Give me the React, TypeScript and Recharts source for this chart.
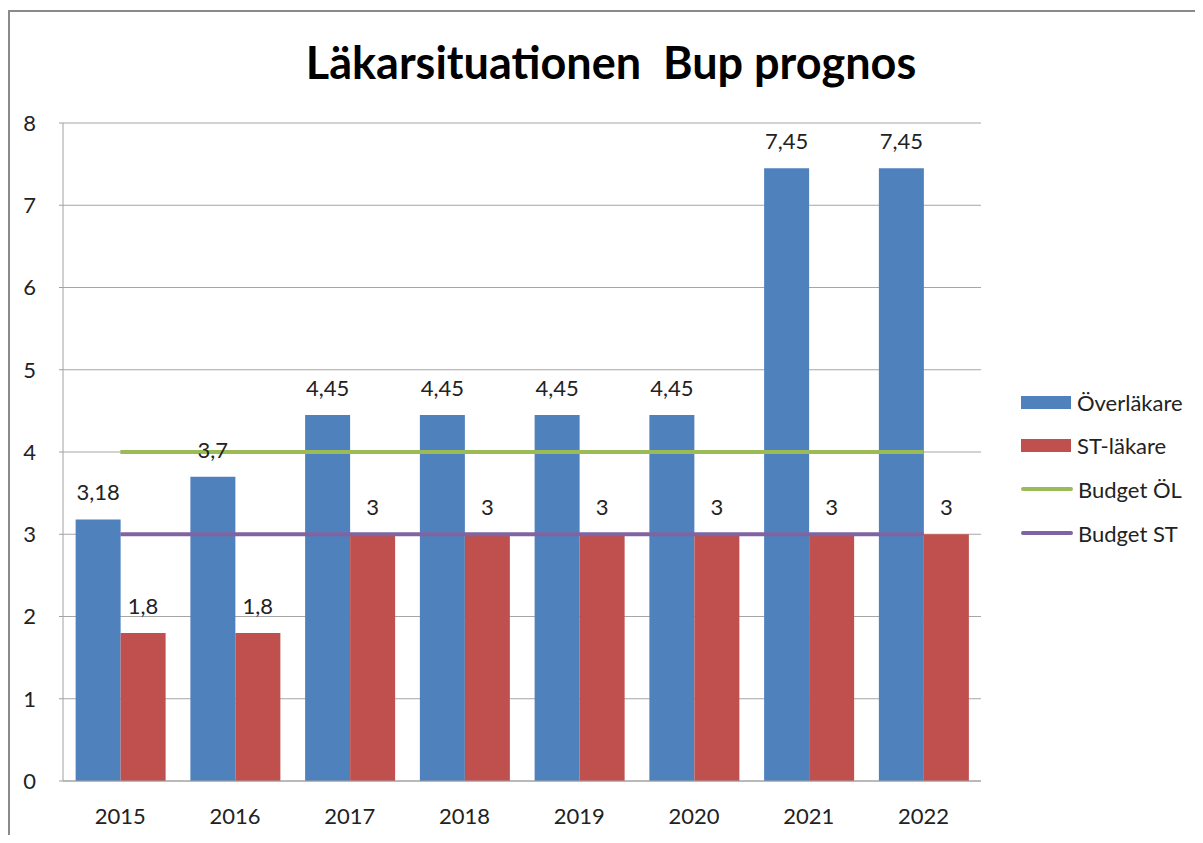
import React from 'react';
import {
  ComposedChart, Bar, Line, XAxis, YAxis, CartesianGrid, LabelList
} from 'recharts';

const years = ['2015', '2016', '2017', '2018', '2019', '2020', '2021', '2022'];
const overlakare = [3.18, 3.7, 4.45, 4.45, 4.45, 4.45, 7.45, 7.45];
const stLakare = [1.8, 1.8, 3, 3, 3, 3, 3, 3];
const budgetOL = [4, 4, 4, 4, 4, 4, 4, 4];
const budgetST = [3, 3, 3, 3, 3, 3, 3, 3];
const yTicks = [0, 1, 2, 3, 4, 5, 6, 7, 8];

const legendItems = [
  { name: 'Överläkare', color: '#4F81BD', kind: 'box' },
  { name: 'ST-läkare', color: '#C0504D', kind: 'box' },
  { name: 'Budget ÖL', color: '#9BBB59', kind: 'line' },
  { name: 'Budget ST', color: '#8064A2', kind: 'line' },
];

const data = years.map((y, i) => ({
  year: y,
  ol: overlakare[i],
  st: stLakare[i],
  bol: budgetOL[i],
  bst: budgetST[i],
}));

const FONT = 'Lato, "Open Sans", sans-serif';
const fmt = (v: any) => String(v).replace('.', ',');

export default function App() {
  return (
    <div style={{ position: 'relative', width: 1187, height: 827, overflow: 'hidden', fontFamily: FONT }}>
      <div style={{
        position: 'absolute', left: 0, top: 2, width: 1187, height: 825,
        borderTop: '2px solid #8a8a8a', borderLeft: '2px solid #8a8a8a', boxSizing: 'border-box'
      }} />
      <div style={{
        position: 'absolute', left: 0, width: 1206, top: 27, textAlign: 'center',
        fontSize: 45, fontWeight: 700, color: '#000', lineHeight: '54px', whiteSpace: 'pre'
      }}>
        {'Läkarsituationen  Bup prognos'}
      </div>
      <ComposedChart
        width={1187}
        height={827}
        data={data}
        margin={{ top: 115, right: 214, bottom: 14, left: 0 }}
        barCategoryGap="11%"
        barGap={0}
        style={{ position: 'absolute', left: 0, top: 0 }}
      >
        <CartesianGrid vertical={false} stroke="#a6a6a6" />
        <XAxis
          dataKey="year"
          height={40}
          tickLine={false}
          tickSize={6}
          tickMargin={21}
          stroke="#a0a0a0"
          tick={{ fontSize: 22, fill: '#222', fontFamily: FONT }}
        />
        <YAxis
          width={55}
          domain={[0, 8]}
          ticks={yTicks}
          tickSize={4}
          tickMargin={23}
          stroke="#a0a0a0"
          tick={{ fontSize: 22, fill: '#222', fontFamily: FONT }}
        />
        <Bar dataKey="ol" name="Överläkare" fill="#4F81BD" isAnimationActive={false}>
          <LabelList dataKey="ol" position="top" offset={19} formatter={fmt}
            style={{ fontSize: 22, fill: '#222', fontFamily: FONT }} />
        </Bar>
        <Bar dataKey="st" name="ST-läkare" fill="#C0504D" isAnimationActive={false}>
          <LabelList dataKey="st" position="top" offset={19} formatter={fmt}
            style={{ fontSize: 22, fill: '#222', fontFamily: FONT }} />
        </Bar>
        <Line dataKey="bol" name="Budget ÖL" stroke="#9BBB59" strokeWidth={4} dot={false} isAnimationActive={false} />
        <Line dataKey="bst" name="Budget ST" stroke="#8064A2" strokeWidth={4} dot={false} isAnimationActive={false} />
      </ComposedChart>
      {legendItems.map((it, i) => (
        <div key={it.name} style={{
          position: 'absolute', left: 1013, top: 381 + i * 43.7, height: 26,
          display: 'flex', alignItems: 'center', fontSize: 22, color: '#222'
        }}>
          {it.kind === 'box' ? (
            <div style={{ width: 50, height: 13, background: it.color, marginRight: 6 }} />
          ) : (
            <div style={{ width: 52, height: 4, borderRadius: 2, background: it.color, marginRight: 5 }} />
          )}
          <span>{it.name}</span>
        </div>
      ))}
    </div>
  );
}
